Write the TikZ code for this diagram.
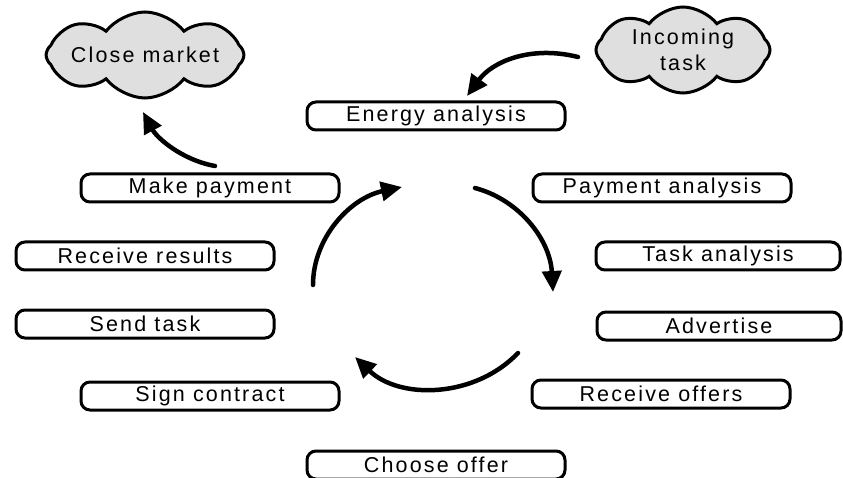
\documentclass[tikz,border=0pt]{standalone}
\usepackage{fontspec}
\setmainfont{Liberation Sans}
\usetikzlibrary{arrows.meta,shapes.symbols}
\tikzset{
  stagebox/.style={draw, line width=3pt, rounded corners=9pt, minimum width=258pt,
    minimum height=28pt, inner sep=0pt, font=\fontsize{21.5}{25}\selectfont\addfontfeature{LetterSpace=10}},
  cloudnode/.style={cloud, cloud puffs=8, cloud puff arc=105, cloud ignores aspect,
    draw, line width=3pt, fill=gray!25, minimum width=174pt, minimum height=86pt,
    inner sep=0pt, align=center, font=\fontsize{21.5}{26}\selectfont\addfontfeature{LetterSpace=10}},
  flow/.style={line width=4.5pt, line cap=round, -{Triangle[length=21pt,width=19pt]}}
}
\begin{document}
\begin{tikzpicture}[x=1pt,y=-1pt]
\useasboundingbox (0,0) rectangle (843,478);
% clouds
\node[cloudnode] (close) at (145,55) {Close market};
\node[cloudnode] (incoming) at (683,50) {Incoming\\task};
% boxes
\node[stagebox] (energy) at (436,116) {Energy analysis};
\node[stagebox] (makepay) at (210,188) {Make payment};
\node[stagebox] (payan) at (662,188) {Payment analysis};
\node[stagebox, minimum width=244pt] (taskan) at (718,256) {Task analysis};
\node[stagebox] (recres) at (145,256) {Receive results};
\node[stagebox] (send) at (145,324) {Send task};
\node[stagebox, minimum width=244pt] (adv) at (719,326) {Advertise};
\node[stagebox] (sign) at (210,396) {Sign contract};
\node[stagebox] (recoff) at (661,394) {Receive offers};
\node[stagebox] (choose) at (436,465) {Choose offer};
% arrow end points
\coordinate (inS) at (578,57);
\coordinate (inE) at (467,96);
\coordinate (mpS) at (215,166);
\coordinate (mpE) at (143,112);
\coordinate (c1S) at (313,285);
\coordinate (c1E) at (402,187);
\coordinate (c2S) at (475,188);
\coordinate (c2E) at (553,292);
\coordinate (c3S) at (518,353);
\coordinate (c3E) at (355,357);
% arrows
\draw[flow] (inS) .. controls (530,45) and (492,62) .. (inE);
\draw[flow] (mpS) .. controls (182,160) and (157,138) .. (mpE);
\draw[flow] (c1S) .. controls (313,238) and (350,198) .. (c1E);
\draw[flow] (c2S) .. controls (520,200) and (550,240) .. (c2E);
\draw[flow] (c3S) .. controls (475,398) and (400,400) .. (c3E);
\end{tikzpicture}
\end{document}
